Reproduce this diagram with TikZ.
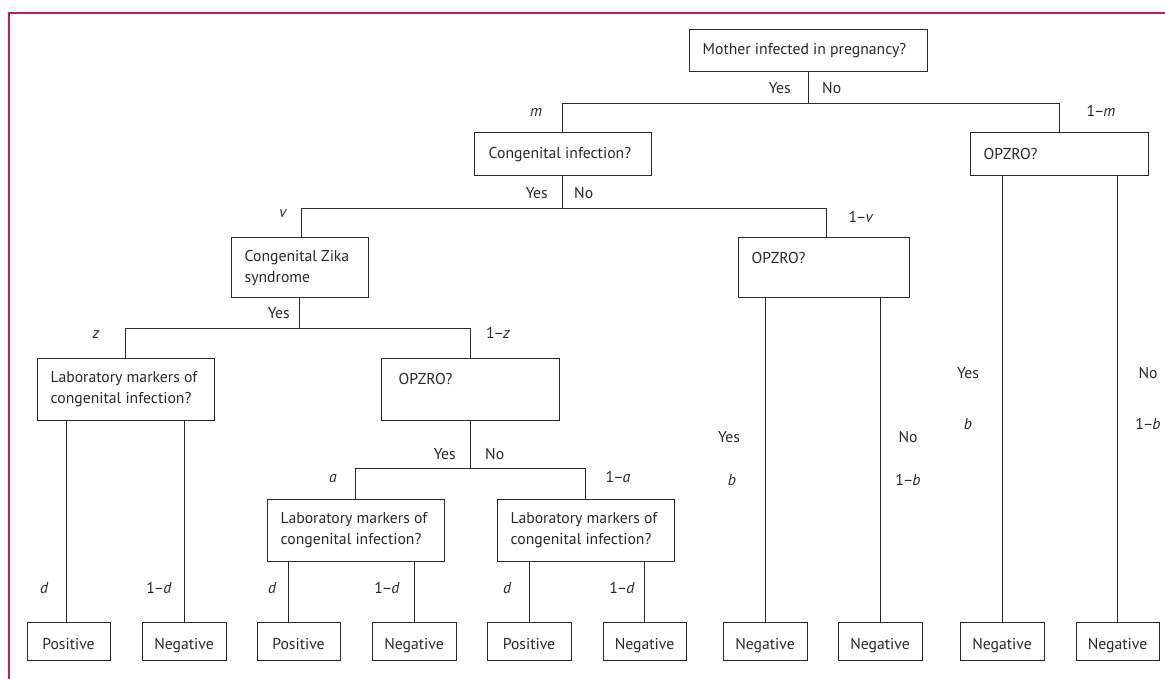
\documentclass[tikz,border=0pt]{standalone}
\usepackage{fontspec}
\setmainfont{PT Sans}
\usetikzlibrary{calc}
\definecolor{framecol}{RGB}{200,30,85}
\definecolor{ink}{RGB}{40,40,40}
\begin{document}
\begin{tikzpicture}[x=1pt,y=-1pt,
  font=\fontsize{15.7}{21}\selectfont,
  box/.style={draw=ink, line width=1pt, inner sep=0pt},
  txt/.style={inner sep=0pt, text=ink, align=left, anchor=west},
  leaf/.style={draw=ink, line width=1pt, inner sep=0pt, minimum height=38pt, text=ink, text height=16pt, text depth=0pt},
  conn/.style={draw=ink, line width=1pt},
  lab/.style={inner sep=0pt, text=ink, anchor=base},
  labE/.style={inner sep=0pt, text=ink, anchor=base east},
  labW/.style={inner sep=0pt, text=ink, anchor=base west}
]
\useasboundingbox (0,0) rectangle (1165,679);
% frame
\draw[framecol, line width=1.2pt] (1165,13) -- (9,13) -- (9,679);

% decision boxes
\node[box, minimum width=238pt, minimum height=42pt] (root) at (808,51) {};
\node[txt] (rootT) at ($(root.west)+(14,0)$) {Mother infected in pregnancy?};

\node[box, minimum width=177pt, minimum height=43pt] (ci) at (562.5,154.5) {};
\node[txt] (ciT) at ($(ci.west)+(15,0)$) {Congenital infection?};

\node[box, minimum width=178pt, minimum height=43pt] (opR) at (1059,154.5) {};
\node[txt] (opRT) at ($(opR.west)+(14,0)$) {OPZRO?};

\node[box, minimum width=137pt, minimum height=59pt] (czs) at (299.5,267.5) {};
\node[txt] (czsT) at ($(czs.west)+(14,1)$) {Congenital Zika\\syndrome};

\node[box, minimum width=171pt, minimum height=59pt] (opM) at (823.5,267.5) {};
\node[txt] (opMT) at ($(opM.west)+(14,-9.5)$) {OPZRO?};

\node[box, minimum width=177pt, minimum height=62pt] (labZ) at (125.5,389) {};
\node[txt] (labZT) at ($(labZ.west)+(14,0.5)$) {Laboratory markers of\\congenital infection?};

\node[box, minimum width=178pt, minimum height=62pt] (opZ) at (470,389) {};
\node[txt] (opZT) at ($(opZ.west)+(18,-10)$) {OPZRO?};

\node[box, minimum width=177pt, minimum height=62pt] (labA) at (355.5,530) {};
\node[txt] (labAT) at ($(labA.west)+(14,0.5)$) {Laboratory markers of\\congenital infection?};

\node[box, minimum width=177pt, minimum height=62pt] (labB) at (585.5,530) {};
\node[txt] (labBT) at ($(labB.west)+(14,0.5)$) {Laboratory markers of\\congenital infection?};

% leaves
\node[leaf, minimum width=83pt] (p1) at (68.5,641) {Positive};
\node[leaf, minimum width=84pt] (n1) at (184,641) {Negative};
\node[leaf, minimum width=83pt] (p2) at (298.5,641) {Positive};
\node[leaf, minimum width=84pt] (n2) at (414,641) {Negative};
\node[leaf, minimum width=84pt] (p3) at (529,641) {Positive};
\node[leaf, minimum width=83pt] (n3) at (644.5,641) {Negative};
\node[leaf, minimum width=84pt] (n4) at (765,641) {Negative};
\node[leaf, minimum width=84pt] (n5) at (880,641) {Negative};
\node[leaf, minimum width=84pt] (n6) at (1002,641) {Negative};
\node[leaf, minimum width=83pt] (n7) at (1117.5,641) {Negative};

% connectors
\coordinate (j0) at ($(root.south)+(0,31)$);
\draw[conn] (root.south) -- (j0);
\draw[conn] (ci.north) -- (ci.north |- j0) -- (opR.north |- j0) -- (opR.north);

\coordinate (j1) at ($(ci.south)+(0,32)$);
\draw[conn] (ci.south) -- (j1);
\draw[conn] ([xshift=2pt]czs.north) -- ([xshift=2pt]czs.north |- j1) -- ([xshift=2.5pt]opM.north |- j1) -- ([xshift=2.5pt]opM.north);

\coordinate (j2) at ($(czs.south)+(0,31)$);
\draw[conn] (czs.south) -- (j2);
\draw[conn] (labZ.north) -- (labZ.north |- j2) -- (opZ.north |- j2) -- (opZ.north);

\coordinate (j3) at ($(opZ.south)+(0,48)$);
\draw[conn] (opZ.south) -- (j3);
\draw[conn] (labA.north) -- (labA.north |- j3) -- (labB.north |- j3) -- (labB.north);

\draw[conn] ([xshift=-2.5pt]p1.north) -- ([xshift=-2.5pt]p1.north |- labZ.south);
\draw[conn] (n1.north) -- (n1.north |- labZ.south);
\draw[conn] ([xshift=-10.5pt]p2.north) -- ([xshift=-10.5pt]p2.north |- labA.south);
\draw[conn] (n2.north) -- (n2.north |- labA.south);
\draw[conn] (p3.north) -- (p3.north |- labB.south);
\draw[conn] (n3.north) -- (n3.north |- labB.south);
\draw[conn] (n4.north) -- (n4.north |- opM.south);
\draw[conn] (n5.north) -- (n5.north |- opM.south);
\draw[conn] (n6.north) -- (n6.north |- opR.south);
\draw[conn] (n7.north) -- (n7.north |- opR.south);

% Yes/No labels at junctions
\node[labE] (y0) at (791,94) {Yes};
\node[labW] (no0) at (822,94) {No};
\node[labE] (y1) at (548,199) {Yes};
\node[labW] (no1) at (574,199) {No};
\node[labE] (y2) at (290,318) {Yes};
\node[labE] (y3) at (456,459) {Yes};
\node[labW] (no3) at (485,459) {No};

% probabilities
\node[lab] (pm) at (536,117) {\itshape m};
\node[lab] (p1m) at (1101,117) {1\kern-1pt–\kern-1pt\textit{m}};
\node[lab] (pv) at (283,218) {\itshape v};
\node[lab] (p1v) at (861,223) {1\kern-1pt–\kern-1pt\textit{v}};
\node[lab] (pz) at (96,338) {\itshape z};
\node[lab] (p1z) at (498,338) {1\kern-1pt–\kern-1pt\textit{z}};
\node[lab] (pa) at (333,482) {\itshape a};
\node[lab] (p1a) at (618,482) {1\kern-1pt–\kern-1pt\textit{a}};
\node[lab] (pd1) at (44,593) {\itshape d};
\node[lab] (p1d1) at (159,593) {1\kern-1pt–\kern-1pt\textit{d}};
\node[lab] (pd2) at (272,593) {\itshape d};
\node[lab] (p1d2) at (387,593) {1\kern-1pt–\kern-1pt\textit{d}};
\node[lab] (pd3) at (507,593) {\itshape d};
\node[lab] (p1d3) at (622,593) {1\kern-1pt–\kern-1pt\textit{d}};

\node[lab] (yM) at (729,442) {Yes};
\node[lab] (bM) at (732,485) {\itshape b};
\node[lab] (noM) at (908,442) {No};
\node[lab] (b1M) at (908,485) {1\kern-1pt–\kern-1pt\textit{b}};

\node[lab] (yR) at (968,378) {Yes};
\node[lab] (bR) at (968,429) {\itshape b};
\node[lab] (noR) at (1148,378) {No};
\node[lab] (b1R) at (1148,429) {1\kern-1pt–\kern-1pt\textit{b}};
\end{tikzpicture}
\end{document}
